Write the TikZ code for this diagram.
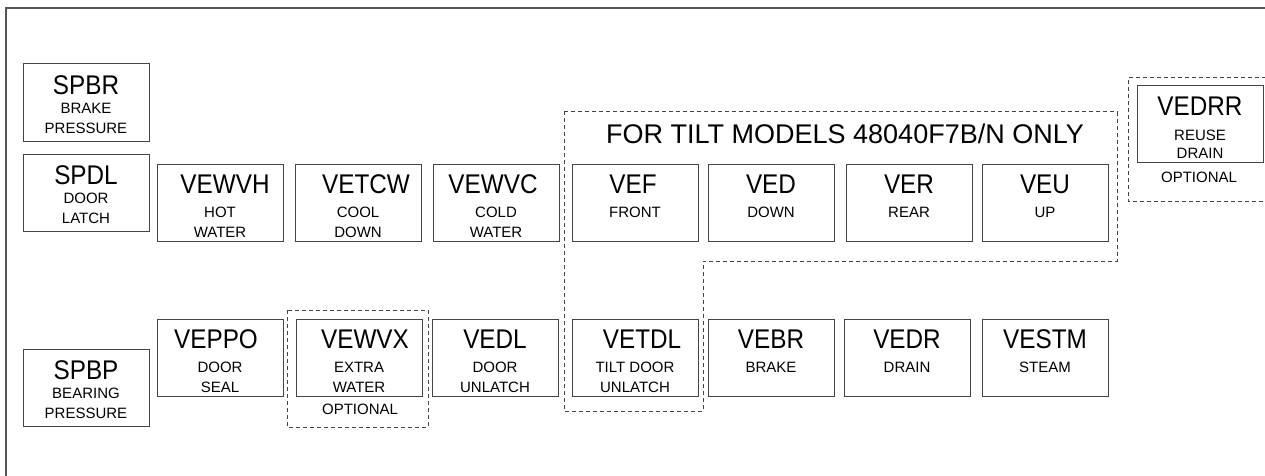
\documentclass[tikz,border=0pt]{standalone}
\usepackage{fontspec}
\setmainfont{Liberation Sans}
\newfontfamily\bigfont[FakeStretch=0.9]{Liberation Sans}
\definecolor{edge}{HTML}{444444}
\definecolor{frame}{HTML}{555555}
\tikzset{
  box/.style={draw=edge, line width=1pt, minimum width=126pt, minimum height=77pt, inner sep=0pt},
  bigt/.style={anchor=base, inner sep=0pt, font=\bigfont\fontsize{27}{27}\selectfont},
  smallt/.style={anchor=base, inner sep=0pt, font=\fontsize{15}{15}\selectfont},
  titlet/.style={anchor=base, inner sep=0pt, font=\fontsize{27}{27}\selectfont},
  dashbox/.style={draw=edge, line width=1pt, dash pattern=on 4pt off 3pt},
}
% name, xleft, ytop, big, dx, line1, line2
\newcommand\mkbox[7]{%
  \node[box] (#1) at (#2+63, #3+38.5) {};
  \node[bigt] (#1-t) at ([xshift=#5pt, yshift=-30pt]#1.north) {#4};
  \node[smallt] (#1-a) at ([yshift=-54pt]#1.north) {#6};
  \node[smallt] (#1-b) at ([yshift=-74pt]#1.north) {#7};
}
\newcommand\mksp[6]{%
  \node[box] (#1) at (#2+63, #3+38.5) {};
  \node[bigt] (#1-t) at ([yshift=-31pt]#1.north) {#4};
  \node[smallt] (#1-a) at ([yshift=-50pt]#1.north) {#5};
  \node[smallt] (#1-b) at ([yshift=-70pt]#1.north) {#6};
}
\begin{document}
\begin{tikzpicture}[x=1pt, y=-1pt]
\useasboundingbox (0,0) rectangle (1265,476);
% frame
\draw[frame, line width=1.5pt] (1266,8) -- (6,8) -- (6,477);
% sensor boxes
\mksp{spbr}{23}{64}{SPBR}{BRAKE}{PRESSURE}
\mksp{spdl}{23}{154}{SPDL}{DOOR}{LATCH}
\mksp{spbp}{23}{349}{SPBP}{BEARING}{PRESSURE}
% top row
\mkbox{vewvh}{157}{164}{VEWVH}{5}{HOT}{WATER}
\mkbox{vetcw}{295}{164}{VETCW}{8}{COOL}{DOWN}
\mkbox{vewvc}{433}{164}{VEWVC}{-3}{COLD}{WATER}
\mkbox{vef}{572}{164}{VEF}{-2}{FRONT}{}
\mkbox{ved}{708}{164}{VED}{0}{DOWN}{}
\mkbox{ver}{846}{164}{VER}{0}{REAR}{}
\mkbox{veu}{982}{164}{VEU}{0}{UP}{}
% bottom row
\mkbox{veppo}{157}{319}{VEPPO}{-4}{DOOR}{SEAL}
\mkbox{vewvx}{296}{319}{VEWVX}{6}{EXTRA}{WATER}
\mkbox{vedl}{432}{319}{VEDL}{0}{DOOR}{UNLATCH}
\mkbox{vetdl}{572}{319}{VETDL}{7}{TILT DOOR}{UNLATCH}
\mkbox{vebr}{708}{319}{VEBR}{0}{BRAKE}{}
\mkbox{vedr}{844}{319}{VEDR}{0}{DRAIN}{}
\mkbox{vestm}{982}{319}{VESTM}{0}{STEAM}{}
% reuse drain
\node[box] (vedrr) at (1137+63, 86+38) {};
\node[bigt] (vedrr-t) at ([yshift=-31pt]vedrr.north) {VEDRR};
\node[smallt] (vedrr-a) at ([yshift=-55pt]vedrr.north) {REUSE};
\node[smallt] (vedrr-b) at ([yshift=-73pt]vedrr.north) {DRAIN};
\node[smallt] (opt2) at (1199,182) {OPTIONAL};
\draw[dashbox] (1266,78) -- (1128,78) -- (1128,201) -- (1266,201);
% extra water optional
\node[smallt] (opt1) at (360,414) {OPTIONAL};
\draw[dashbox] (287,310) rectangle (428,427);
% tilt region
\node[titlet] (title) at (845,143) {FOR TILT MODELS 48040F7B/N ONLY};
\draw[dashbox] (564,112) -- (1117,112) -- (1117,261) -- (703,261) -- (703,411) -- (564,411) -- cycle;
\end{tikzpicture}
\end{document}
